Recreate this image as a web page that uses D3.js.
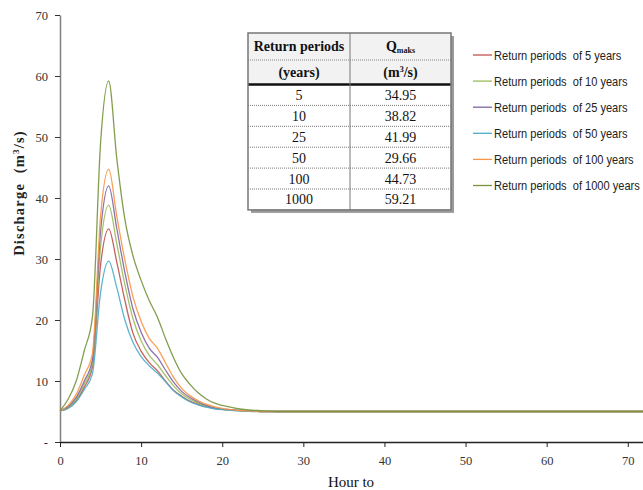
<!DOCTYPE html>
<html>
<head>
<meta charset="utf-8">
<script src="https://cdn.jsdelivr.net/npm/d3@7/dist/d3.min.js"></script>
<style>
  html, body { margin: 0; padding: 0; background: #fff; }
  svg { display: block; }
</style>
</head>
<body>
<svg id="chart" width="643" height="490"></svg>
<script>
// ---------- data ----------
const hours = d3.range(0, 73);
const seriesNames = ["Return periods  of 5 years", "Return periods  of 10 years", "Return periods  of 25 years",
  "Return periods  of 50 years", "Return periods  of 100 years", "Return periods  of 1000 years"];
const seriesColors = ["#c0504d", "#9bbb59", "#8064a2", "#4bacc6", "#f79646", "#77933c"];

// hourly discharge (m3/s), hours 0..27, then flat base flow
const q5    = [5.1, 5.6, 6.8, 9.0, 12.3, 29.0, 34.95, 29.5, 23.2, 17.8, 14.9, 13.0, 11.7, 10.0, 8.5, 7.5, 6.7, 6.2, 5.8, 5.5, 5.35, 5.25, 5.15, 5.1, 5.05, 5.0, 5.0, 5.0];
const q10   = [5.1, 5.7, 7.0, 9.5, 12.8, 32.0, 38.82, 32.5, 25.8, 20.2, 16.6, 14.2, 12.7, 10.9, 9.2, 7.9, 7.0, 6.4, 5.9, 5.55, 5.35, 5.25, 5.15, 5.1, 5.05, 5.0, 5.0, 5.0];
const q25   = [5.1, 5.8, 7.3, 10.0, 13.5, 34.5, 41.99, 35.0, 27.8, 21.8, 18.0, 15.4, 13.9, 11.8, 9.8, 8.3, 7.3, 6.6, 6.0, 5.6, 5.4, 5.3, 5.2, 5.1, 5.05, 5.0, 5.0, 5.0];
const q50   = [5.1, 5.5, 6.6, 8.6, 11.2, 24.5, 29.66, 25.3, 20.0, 16.3, 14.0, 12.5, 11.3, 9.9, 8.4, 7.4, 6.6, 6.1, 5.7, 5.45, 5.3, 5.2, 5.1, 5.05, 5.0, 5.0, 5.0, 5.0];
const q100  = [5.1, 6.0, 7.8, 11.0, 14.5, 37.0, 44.73, 37.0, 29.8, 23.8, 19.8, 17.0, 15.4, 13.0, 10.6, 8.8, 7.6, 6.8, 6.2, 5.8, 5.5, 5.3, 5.2, 5.1, 5.05, 5.0, 5.0, 5.0];
const q1000 = [5.1, 7.0, 10.0, 15.0, 20.5, 49.0, 59.21, 46.5, 36.5, 30.5, 26.5, 23.2, 20.5, 17.0, 13.8, 11.2, 9.5, 8.1, 7.1, 6.4, 6.0, 5.7, 5.45, 5.3, 5.2, 5.1, 5.05, 5.0];
const baseFlow = 5.0;
const seriesValues = [q5, q10, q25, q50, q100, q1000];

const xTicks = [0, 10, 20, 30, 40, 50, 60, 70];
const yTicks = [0, 10, 20, 30, 40, 50, 60, 70];

const tablePeriods = ["5", "10", "25", "50", "100", "1000"];
const tableQmax = ["34.95", "38.82", "41.99", "29.66", "44.73", "59.21"];

// ---------- layout ----------
const svg = d3.select("#chart");
const x = d3.scaleLinear().domain([0, 72]).range([60, 644]);
const y = d3.scaleLinear().domain([0, 70]).range([442, 15]);

const serif = "'Liberation Serif', 'DejaVu Serif', serif";

// axes
const yAxis = svg.append("g").attr("transform", "translate(60,0)")
  .call(d3.axisLeft(y).tickValues(yTicks).tickSize(5).tickSizeOuter(0)
    .tickFormat(d => d === 0 ? "-" : d));
yAxis.select(".domain").attr("stroke", "#808080").attr("stroke-width", 1.5);
yAxis.selectAll(".tick line").attr("stroke", "#333");
yAxis.selectAll(".tick text").attr("font-family", serif).attr("font-size", 12.5)
  .attr("fill", "#333").attr("x", -12);

const xAxis = svg.append("g").attr("transform", "translate(0,442)")
  .call(d3.axisBottom(x).tickValues(xTicks).tickSize(5).tickSizeOuter(0));
xAxis.select(".domain").attr("stroke", "#222").attr("stroke-width", 1.5);
xAxis.selectAll(".tick line").attr("stroke", "#222");
xAxis.selectAll(".tick text").attr("font-family", serif).attr("font-size", 12.5)
  .attr("fill", "#333").attr("y", 14);

// lines
const line = d3.line().x(d => x(d[0])).y(d => y(d[1])).curve(d3.curveMonotoneX);
seriesValues.forEach((vals, i) => {
  const pts = hours.map(h => [h, h < vals.length ? vals[h] : baseFlow]);
  svg.append("path").datum(pts).attr("d", line).attr("fill", "none")
    .attr("stroke", seriesColors[i]).attr("stroke-width", 1.3).attr("stroke-opacity", 0.9);
});

// axis titles
svg.append("text").attr("x", 351).attr("y", 487).attr("text-anchor", "middle")
  .attr("font-family", serif).attr("font-size", 15).attr("fill", "#111").text("Hour to");

const yt = svg.append("text").attr("transform", "translate(24,193) rotate(-90)")
  .attr("text-anchor", "middle").attr("font-family", serif).attr("font-size", 14.5)
  .attr("font-weight", "bold").attr("letter-spacing", 1.2).attr("fill", "#222")
  .style("white-space", "pre");
yt.append("tspan").text("Discharge  (m");
yt.append("tspan").attr("dy", -5).attr("font-size", 9).text("3");
yt.append("tspan").attr("dy", 5).text("/s)");

// legend
const lg = svg.append("g");
const legTexts = [];
seriesNames.forEach((n, i) => {
  const yy = 55 + i * 26.1;
  lg.append("line").attr("x1", 473).attr("x2", 492).attr("y1", yy).attr("y2", yy)
    .attr("stroke", seriesColors[i]).attr("stroke-width", 1.3);
  const g = lg.append("g").attr("transform", `translate(494,${yy + 4.5})`);
  legTexts.push(g.append("text").attr("x", 0).attr("y", 0)
    .attr("font-family", "'Liberation Sans', Arial, sans-serif")
    .attr("font-size", 13).attr("fill", "#222").style("white-space", "pre").text(n));
});
// condense legend text horizontally to mimic the narrow font: longest entry spans 146px
const widths = legTexts.map(t => t.node().getComputedTextLength());
const k = 146 / d3.max(widths);
legTexts.forEach(t => d3.select(t.node().parentNode)
  .attr("transform", d3.select(t.node().parentNode).attr("transform") + ` scale(${k},1)`));

// table
const tb = svg.append("g");
const tL = 248, tR = 451, tMid = 350, tTop = 33, tHeadEnd = 84.5, rowH = 20.9;
const tBottom = tHeadEnd + rowH * tablePeriods.length;
// shadow
tb.append("rect").attr("x", tL + 3).attr("y", tTop + 3).attr("width", tR - tL).attr("height", tBottom - tTop)
  .attr("fill", "#9a9a9a");
tb.append("rect").attr("x", tL).attr("y", tTop).attr("width", tR - tL).attr("height", tBottom - tTop)
  .attr("fill", "#fff");
tb.append("rect").attr("x", tL).attr("y", tTop).attr("width", tR - tL).attr("height", tHeadEnd - tTop)
  .attr("fill", "#f2f2f2");
tb.append("line").attr("x1", tL).attr("x2", tR).attr("y1", 60).attr("y2", 60)
  .attr("stroke", "#888").attr("stroke-dasharray", "1,1");
for (let i = 1; i < tablePeriods.length; i++) {
  const yy = tHeadEnd + rowH * i;
  tb.append("line").attr("x1", tL).attr("x2", tR).attr("y1", yy).attr("y2", yy)
    .attr("stroke", "#777").attr("stroke-dasharray", "1,1");
}
tb.append("line").attr("x1", tL).attr("x2", tR).attr("y1", tHeadEnd).attr("y2", tHeadEnd)
  .attr("stroke", "#111").attr("stroke-width", 2.5);
tb.append("line").attr("x1", tMid).attr("x2", tMid).attr("y1", tTop).attr("y2", tBottom)
  .attr("stroke", "#777").attr("stroke-width", 1);
tb.append("rect").attr("x", tL).attr("y", tTop).attr("width", tR - tL).attr("height", tBottom - tTop)
  .attr("fill", "none").attr("stroke", "#777").attr("stroke-width", 1.5);

const cL = (tL + tMid) / 2, cR = (tMid + tR) / 2;
const tf = { "font-family": serif, "font-size": 14, "fill": "#111" };
function tText(xx, yy, s, bold) {
  const t = tb.append("text").attr("x", xx).attr("y", yy).attr("text-anchor", "middle");
  Object.entries(tf).forEach(([kk, v]) => t.attr(kk, v));
  if (bold) t.attr("font-weight", "bold");
  if (s !== null) t.text(s);
  return t;
}
tText(cL, 51, "Return periods", true);
tText(cL, 77, "(years)", true);
const qh = tText(cR, 51, null, true);
qh.append("tspan").text("Q");
qh.append("tspan").attr("font-size", 8).attr("dy", 2).text("maks");
const mh = tText(cR, 77, null, true);
mh.append("tspan").text("(m");
mh.append("tspan").attr("font-size", 8).attr("dy", -5).text("3");
mh.append("tspan").attr("dy", 5).text("/s)");
tablePeriods.forEach((p, i) => {
  const yy = tHeadEnd + rowH * i + rowH / 2 + 5;
  tText(cL, yy, p, false);
  tText(cR, yy, tableQmax[i], false);
});
</script>
</body>
</html>
